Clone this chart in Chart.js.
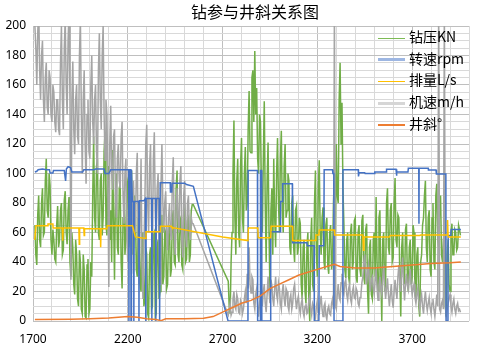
<!DOCTYPE html>
<html>
<head>
<meta charset="utf-8">
<script src="https://cdn.jsdelivr.net/npm/chart.js@4.4.1/dist/chart.umd.min.js"></script>
<style>
html,body{margin:0;padding:0;background:#fff;}
#wrap{position:relative;width:480px;height:351px;overflow:hidden;}
#title{position:absolute;left:135px;width:240px;top:0px;text-align:center;font-family:"Noto Sans CJK SC";font-size:16px;line-height:22px;color:#000;}
#legend{position:absolute;left:378px;top:26px;font-family:"Noto Sans CJK SC";font-size:14px;color:#000;}
.row{height:21.65px;line-height:21.65px;white-space:nowrap;}
.sw{display:inline-block;width:27px;vertical-align:middle;margin-right:4px;}
</style>
</head>
<body>
<div id="wrap">
<canvas id="c" width="480" height="351"></canvas>
<div id="title">钻参与井斜关系图</div>
<div id="legend"></div>
</div>
<script>
// ---- data ----
const seriesNames = ['钻压KN','转速rpm','排量L/s','机速m/h','井斜°'];
const seriesColors = ['#70AD47','#4472C4','#FFC000','#A5A5A5','#ED7D31'];

// sampled depths for 钻压 / 机速 (m)
const depth = [
1710,1715,1720,1725,1730,1735,1740,1745,1750,1755,1760,1765,1770,1775,1780,1785,1790,1795,1800,1805,
1810,1815,1820,1825,1830,1835,1840,1845,1850,1855,1860,1865,1870,1875,1880,1885,1890,1895,1900,1905,
1910,1915,1920,1925,1930,1935,1940,1945,1950,1955,1960,1965,1970,1975,1980,1985,1990,1995,2000,2005,
2010,2015,2020,2025,2030,2035,2040,2045,2050,2055,2060,2065,2070,2075,2080,2085,2090,2095,2100,2105,
2110,2115,2120,2125,2130,2135,2140,2145,2150,2155,2160,2165,2170,2175,2180,2185,2190,2195,2200,2205,
2210,2215,2220,2225,2230,2235,2240,2245,2250,2255,2260,2265,2270,2275,2280,2285,2290,2295,2300,2305,
2310,2315,2320,2325,2330,2335,2340,2345,2350,2355,2360,2365,2370,2375,2380,2385,2390,2395,2400,2405,
2410,2415,2420,2425,2430,2435,2440,2445,2450,2455,2460,2465,2470,2475,2480,2485,2490,2495,2500,2505,
2510,2515,2520,2525,2530,2535,2540,2545,
2730,2735,2740,2745,2750,2755,2760,2765,2770,2775,2780,2785,2790,2795,2800,2805,2810,2815,2820,2825,
2830,2835,2840,2845,2850,2855,2860,2865,2870,2875,2880,2885,2890,2895,2900,2905,2910,2915,2920,2925,
2930,2935,2940,2945,2950,2955,2960,2965,2970,2975,2980,2985,2990,2995,3000,3005,3010,3015,3020,3025,
3030,3035,3040,3045,3050,3055,3060,3065,3070,3075,3080,3085,3090,3095,3100,3105,3110,3115,3120,3125,
3130,3135,3140,3145,3150,3155,3160,3165,3170,3175,3180,3185,3190,3195,3200,3205,3210,3215,3220,3225,
3230,3235,3240,3245,3250,3255,3260,3265,3270,3275,3280,3285,3290,3295,3300,3305,3310,3315,3320,3325,
3330,3335,3340,3345,3350,3355,3360,3365,3370,3375,3380,3385,3390,3395,3400,3405,3410,3415,3420,3425,
3430,3435,3440,3445,3450,3455,3460,3465,3470,3475,3480,3485,3490,3495,3500,3505,3510,3515,3520,3525,
3530,3535,3540,3545,3550,3555,3560,3565,3570,3575,3580,3585,3590,3595,3600,3605,3610,3615,3620,3625,
3630,3635,3640,3645,3650,3655,3660,3665,3670,3675,3680,3685,3690,3695,3700,3705,3710,3715,3720,3725,
3730,3735,3740,3745,3750,3755,3760,3765,3770,3775,3780,3785,3790,3795,3800,3805,3810,3815,3820,3825,
3830,3835,3840,3845,3850,3855,3860,3865,3870,3875,3880,3885,3890,3895,3900,3905,3910,3915,3920,3925,
3930,3935,3940,3945,3950,3955
];
// 钻压 KN
const wob = [
65,45,38,72,85,55,50,80,90,58,60,95,110,75,70,100,92,55,45,62,
55,42,40,65,78,50,55,75,80,45,48,82,88,60,52,75,84,40,30,60,
50,25,18,55,45,15,10,48,40,8,5,45,35,3,2,38,42,5,8,40,
30,85,125,70,60,105,110,60,55,95,100,58,70,115,128,65,58,100,105,55,
75,40,116,70,28,85,100,50,45,90,93,40,22,70,88,45,55,92,95,50,
60,95,102,45,50,85,80,35,30,70,65,25,20,60,55,10,15,50,45,5,
2,45,50,8,10,58,60,3,5,50,55,15,20,65,72,25,30,62,60,22,
25,60,65,30,35,70,75,40,38,90,102,45,40,68,70,38,35,72,75,40,
42,68,70,40,45,75,79,79,
27,10,5,40,60,100,136,70,45,95,110,60,50,105,124,70,60,100,118,75,
80,130,156,115,114,165,170,135,183,140,158,110,100,140,135,90,60,110,149,80,
40,95,121,60,20,75,90,45,110,70,50,100,124,80,60,110,129,75,60,105,
120,70,75,100,95,50,45,80,85,50,40,75,78,45,50,70,66,25,15,50,
55,20,12,50,60,15,0,55,70,25,20,80,102,45,30,90,109,60,45,70,
77,40,35,65,70,38,32,60,65,35,40,80,100,60,120,85,80,150,175,120,
148,90,66,35,29,55,60,30,25,60,66,35,40,68,70,30,26,60,65,35,
30,68,72,30,25,62,66,20,5,50,55,18,15,55,60,30,84,40,20,70,
75,30,0,55,60,20,25,80,90,50,45,75,80,40,43,80,97,55,50,72,
70,30,3,50,60,30,25,62,66,28,20,50,55,25,30,65,60,20,15,45,
50,10,3,40,45,65,70,85,95,50,40,70,75,35,30,70,80,40,35,85,
93,55,50,80,85,45,40,55,60,10,3,45,55,25,20,60,66,45,45,62,
60,48,50,65,62,58
];
// 机速 m/h
const rop = [
200,185,160,195,215,170,150,180,190,150,135,165,175,145,140,170,165,140,135,160,
155,135,128,150,150,130,126,175,200,150,130,185,205,160,140,190,210,150,28,150,
176,130,113,150,160,125,120,180,205,140,100,150,170,120,93,140,150,115,110,160,
180,135,120,150,160,115,100,170,195,150,130,180,200,140,109,150,140,90,23,120,
146,100,89,125,130,85,70,110,120,95,90,125,135,85,66,100,110,60,40,85,
100,55,32,80,95,70,60,100,114,50,25,70,110,40,15,50,80,120,133,80,
60,105,120,70,45,110,128,75,55,90,100,50,25,90,120,80,60,80,88,60,
48,70,80,60,55,95,111,60,45,80,90,70,60,95,105,55,43,85,95,60,
50,80,85,60,55,70,66,66,
4,8,12,4,6,15,20,10,8,18,15,6,5,14,12,5,8,15,20,12,
32,22,50,25,19,30,28,12,8,18,22,10,3,12,18,25,10,20,25,12,
6,18,30,20,12,28,24,15,10,22,30,18,14,26,22,12,8,20,25,15,
10,22,20,10,7,15,18,8,12,22,25,15,8,14,17,9,5,12,15,6,
3,10,12,5,6,14,17,8,4,12,10,4,2,10,14,6,5,12,17,8,
3,10,12,4,1,8,10,5,4,12,15,8,215,10,8,18,25,16,14,26,
32,20,18,26,28,18,14,22,25,15,12,20,23,16,15,22,20,12,10,16,
18,26,30,40,45,32,25,34,38,26,20,28,30,22,18,28,35,22,14,24,
30,22,18,30,38,24,15,22,29,18,10,18,25,14,9,20,28,20,15,30,
38,26,20,35,43,25,14,25,32,24,21,30,35,24,18,22,25,16,12,18,
22,14,8,14,18,10,5,14,20,12,7,12,16,9,5,12,15,8,3,10,
18,10,215,8,6,12,14,8,215,10,4,8,12,16,18,10,6,12,15,8,
5,10,12,7,8,6
];
// 转速 rpm
const rpmDepth = [1710,1720,1727,1750,1770,1787,1790,1805,1808,1865,1872,1876,1885,1898,1905,1962,1968,2022,2030,2075,2080,2100,2110,2205,2206,2208,2216,2217,2219,2220,2224,2231,2232,2234,2258,2259,2261,2285,2293,2295,2297,2326,2327,2329,2347,2348,2350,2366,2368,2371,2424,2425,2432,2434,2500,2510,2546,2729,2834,2835,2884,2885,2899,2900,2906,2907,2953,2954,3005,3006,3016,3017,3068,3069,3145,3147,3183,3184,3208,3210,3234,3236,3280,3282,3287,3288,3334,3335,3416,3417,3420,3450,3452,3500,3503,3563,3565,3615,3617,3620,3678,3680,3735,3736,3737,3785,3786,3826,3828,3878,3879,3889,3890,3904,3906,3957];
const rpm = [101,101.5,102.5,103,102.5,102.5,100.4,100.4,102,102,95,103,104.6,104,101,101,102.6,102.6,103,103,100,100,102.5,102.5,0,102.5,102.5,0,102.5,102.5,81,81,0,81,81,0,81.5,81.5,83,0,83,83,0,83,83,0,83,83,0,93.8,93.8,87.5,87.5,93.4,93.4,92.5,91.3,0,0,102,102,0,0,102,102,0,0,60.5,60.5,81,81,93,93,53,53,51,51,0,0,51,51,102.6,102.6,100,100,0,0,102.6,102.5,98,100.5,100.5,100,100,101,101,102.8,102.8,98.5,101,101,103.5,103.5,66,103.5,103.5,102.4,102.4,99.6,99.6,0,0,58,58,62,62];
// 排量 L/s
const flowDepth = [1709,1716,1778,1779,1805,1806,1855,1857,1859,1942,1944,1946,1968,1970,1972,2055,2057,2059,2090,2092,2225,2240,2294,2296,2370,2372,2430,2433,2700,2834,2836,2886,2888,2954,2956,3068,3070,3190,3192,3208,3210,3289,3291,3440,3443,3446,3580,3585,3740,3745,3885,3887,3890,3957];
const flow = [55,64.6,64.6,65.8,65.8,63,63,54.5,63,63,52,63,63,58,62.5,62.5,50,62.5,62.5,64.6,64.6,57,56,60.5,60.5,64.2,64.2,63.4,57,54.5,63,63,56.5,56.5,64.2,64.2,54.5,54.5,58.3,58.3,61.7,61.7,58.3,58.3,48,57,57,58,58,58.3,58.3,68.5,57,57];
// 井斜 °
const incDepth = [1710,1900,2000,2100,2150,2200,2250,2300,2350,2375,2400,2500,2600,2650,2700,2750,2800,2850,2900,2950,3000,3050,3100,3150,3200,3250,3290,3320,3400,3500,3600,3700,3800,3900,3957];
const inc = [1,1.2,1.5,2,2.5,3,2.5,1.5,1,0.2,1.5,1.6,1.8,3,6,9,12,14,17,22,25,28,31,33,35,37,38.5,37,36,36,37,38,39,39.5,40];

// axis ticks
const xMin = 1700, xMax = 4000, xMinor = 100, xMajor = 500;
const yMin = 0, yMax = 200, yMinor = 5, yMajor = 20;

// ---- build ----
function pts(xs, ys){ return xs.map((x,i)=>({x:x, y:ys[i]})); }
const lineBase = {pointRadius:0, borderWidth:1.5, tension:0, fill:false, spanGaps:true};
const datasets = [
  Object.assign({label:seriesNames[0], data:pts(depth, wob), borderColor:seriesColors[0], order:4}, lineBase),
  Object.assign({label:seriesNames[1], data:pts(rpmDepth, rpm), borderColor:seriesColors[1], order:2}, lineBase),
  Object.assign({label:seriesNames[2], data:pts(flowDepth, flow), borderColor:seriesColors[2], order:1}, lineBase),
  Object.assign({label:seriesNames[3], data:pts(depth, rop), borderColor:seriesColors[3], order:3}, lineBase),
  Object.assign({label:seriesNames[4], data:pts(incDepth, inc), borderColor:seriesColors[4], order:0}, lineBase)
];

// legend (HTML)
const swatch = [
  {c:'#7DBB55', h:1.2},
  {c:'#9DB6E2', h:3},
  {c:'#FFC000', h:1.5},
  {c:'#D6D6D6', h:3},
  {c:'#ED7D31', h:1.5}
];
const lg = document.getElementById('legend');
seriesNames.forEach((n,i)=>{
  const r = document.createElement('div'); r.className='row';
  const s = document.createElement('span'); s.className='sw';
  s.style.height = swatch[i].h+'px'; s.style.background = swatch[i].c;
  r.appendChild(s);
  r.appendChild(document.createTextNode(n));
  lg.appendChild(r);
});

new Chart(document.getElementById('c'), {
  type:'line',
  data:{datasets:datasets},
  options:{
    responsive:false,
    animation:false,
    events:[],
    layout:{padding:{left:0,right:6,top:26,bottom:0}},
    plugins:{legend:{display:false}, title:{display:false}, tooltip:{enabled:false}},
    scales:{
      x:{
        type:'linear', min:xMin, max:xMax,
        border:{display:false},
        grid:{drawTicks:false, lineWidth:1,
          color:(c)=> (c.tick && (c.tick.value - xMin) % xMajor === 0) ? '#BFBFBF' : '#D9D9D9'},
        ticks:{stepSize:xMinor, autoSkip:false, maxRotation:0, padding:11, color:'#000',
          font:{family:'Noto Sans', size:12},
          callback:(v)=> ((v - xMin) % xMajor === 0 && v < xMax) ? String(v) : ''},
        afterFit:(s)=>{ s.height = 30; }
      },
      y:{
        min:yMin, max:yMax,
        border:{display:false},
        grid:{drawTicks:false, lineWidth:1,
          color:(c)=> (c.tick && c.tick.value % yMajor === 0) ? '#BFBFBF' : '#D9D9D9'},
        ticks:{stepSize:yMinor, autoSkip:false, padding:7, color:'#000',
          font:{family:'Noto Sans', size:12},
          callback:(v)=> (v % yMajor === 0) ? String(v) : ''},
        afterFit:(s)=>{ s.width = 33; }
      }
    }
  }
});
</script>
</body>
</html>
